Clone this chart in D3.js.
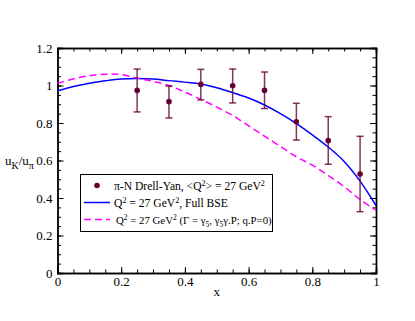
<!DOCTYPE html>
<html>
<head>
<meta charset="utf-8">
<script src="https://cdn.jsdelivr.net/npm/d3@7"></script>
<style>
  body { margin: 0; background: #fff; }
  text { font-family: "Liberation Serif", "Times New Roman", serif; }
</style>
</head>
<body>
<div id="chart"></div>
<script>
// measured points (pi-N Drell-Yan)
let dataX = [0.25, 0.35, 0.45, 0.55, 0.65, 0.75, 0.85, 0.95];
let dataY = [0.974, 0.914, 1.006, 0.999, 0.974, 0.807, 0.706, 0.528];
let errLow = [0.859, 0.827, 0.923, 0.907, 0.877, 0.709, 0.580, 0.327];
let errHigh = [1.088, 0.997, 1.086, 1.088, 1.072, 0.905, 0.834, 0.729];

// model curves
let curveX = [0, 0.05, 0.1, 0.15, 0.2, 0.25, 0.3, 0.35, 0.4, 0.45, 0.5,
              0.55, 0.6, 0.65, 0.7, 0.75, 0.8, 0.85, 0.9, 0.95, 1.0];
let fullBSE = [0.972, 0.995, 1.012, 1.025, 1.035, 1.038, 1.035, 1.026, 1.018, 1.008, 0.988,
               0.962, 0.933, 0.896, 0.850, 0.797, 0.737, 0.672, 0.595, 0.490, 0.360];
let truncBSE = [1.012, 1.035, 1.052, 1.060, 1.058, 1.040, 1.022, 1.000, 0.965, 0.926, 0.885,
                0.840, 0.785, 0.730, 0.675, 0.620, 0.575, 0.520, 0.460, 0.392, 0.335];

let xTicks = [0, 0.2, 0.4, 0.6, 0.8, 1];
let yTicks = [0, 0.2, 0.4, 0.6, 0.8, 1, 1.2];

let buildChart = () =>
{
	let width = 415;
	let height = 321;
	let left = 57.5, right = 376, top = 48, bottom = 273;

	let svg = d3.select('#chart')
	  .append('svg')
	  .attr('width', width)
	  .attr('height', height);

	let x = d3.scaleLinear().domain([0, 1]).range([left, right]);
	let y = d3.scaleLinear().domain([0, 1.2]).range([bottom, top]);

	let fmt = d => d === 0 || d === 1 ? d3.format('d')(d) : d3.format('.1f')(d);

	// minor ticks first, then majors with labels
	let minorX = d3.range(0, 1.0001, 0.05);
	let minorY = d3.range(0, 1.2001, 0.05);

	let addAxis = (axis, tx, ty) => {
		let g = svg.append('g')
		  .attr('transform', 'translate(' + tx + ',' + ty + ')')
		  .call(axis);
		g.selectAll('path.domain').attr('stroke', '#000').attr('stroke-width', 1.4);
		g.selectAll('line').attr('stroke', '#000').attr('stroke-width', 1);
		g.selectAll('text')
		  .style('font-family', '"Liberation Serif", serif')
		  .style('font-size', '13px')
		  .attr('fill', '#000');
		return g;
	};

	addAxis(d3.axisBottom(x).tickValues(minorX).tickSize(-3.5).tickFormat(''), 0, bottom);
	addAxis(d3.axisTop(x).tickValues(minorX).tickSize(-3.5).tickFormat(''), 0, top);
	addAxis(d3.axisLeft(y).tickValues(minorY).tickSize(-3.5).tickFormat(''), left, 0);
	addAxis(d3.axisRight(y).tickValues(minorY).tickSize(-3.5).tickFormat(''), right, 0);

	addAxis(d3.axisBottom(x).tickValues(xTicks).tickSize(-6).tickPadding(4).tickFormat(fmt), 0, bottom);
	addAxis(d3.axisTop(x).tickValues(xTicks).tickSize(-6).tickFormat(''), 0, top);
	addAxis(d3.axisLeft(y).tickValues(yTicks).tickSize(-6).tickPadding(5).tickFormat(fmt), left, 0);
	addAxis(d3.axisRight(y).tickValues(yTicks).tickSize(-6).tickFormat(''), right, 0);

	// curves
	let line = d3.line()
	  .x((d, i) => x(curveX[i]))
	  .y(d => y(d))
	  .curve(d3.curveCatmullRom);

	svg.append('path')
	   .datum(fullBSE)
	   .attr('d', line)
	   .attr('fill', 'none')
	   .attr('stroke', '#0000ff')
	   .attr('stroke-width', 1.5);

	svg.append('path')
	   .datum(truncBSE)
	   .attr('d', line)
	   .attr('fill', 'none')
	   .attr('stroke', '#ff00ff')
	   .attr('stroke-width', 1.5)
	   .attr('stroke-dasharray', '7,4');

	// data with error bars
	let pts = dataX.map((d, i) => ({ x: d, y: dataY[i], lo: errLow[i], hi: errHigh[i] }));
	let ptColor = '#660033';

	let bars = svg.selectAll('g.pt')
	   .data(pts)
	   .enter()
	   .append('g')
	   .attr('class', 'pt')
	   .attr('stroke', ptColor)
	   .attr('stroke-opacity', 0.8)
	   .attr('stroke-width', 1.5);

	bars.append('line')
	   .attr('x1', d => x(d.x)).attr('x2', d => x(d.x))
	   .attr('y1', d => y(d.lo)).attr('y2', d => y(d.hi));
	bars.append('line')
	   .attr('x1', d => x(d.x) - 3.5).attr('x2', d => x(d.x) + 3.5)
	   .attr('y1', d => y(d.lo)).attr('y2', d => y(d.lo));
	bars.append('line')
	   .attr('x1', d => x(d.x) - 3.5).attr('x2', d => x(d.x) + 3.5)
	   .attr('y1', d => y(d.hi)).attr('y2', d => y(d.hi));

	svg.selectAll('circle.pt')
	   .data(pts)
	   .enter()
	   .append('circle')
	   .attr('class', 'pt')
	   .attr('cx', d => x(d.x))
	   .attr('cy', d => y(d.y))
	   .attr('r', 2.8)
	   .attr('fill', ptColor);

	// axis titles
	let yl = svg.append('text')
	   .attr('x', 5)
	   .attr('y', 165)
	   .style('font-size', '13px');
	yl.append('tspan').text('u');
	yl.append('tspan').text('K').attr('dy', 4).style('font-size', '10px');
	yl.append('tspan').text('/u').attr('dy', -4);
	yl.append('tspan').text('π').attr('dy', 4).style('font-size', '10px');

	svg.append('text')
	   .attr('x', x(0.5))
	   .attr('y', 296)
	   .attr('text-anchor', 'middle')
	   .style('font-size', '13px')
	   .text('x');

	// legend
	let legend = svg.append('g');
	legend.append('rect')
	   .attr('x', 80.5).attr('y', 174.5)
	   .attr('width', 192).attr('height', 57)
	   .attr('fill', '#fff')
	   .attr('stroke', '#000')
	   .attr('stroke-width', 1);

	let rows = [185.5, 202.5, 219.5];

	legend.append('circle')
	   .attr('cx', 97).attr('cy', rows[0]).attr('r', 2.8).attr('fill', ptColor);
	legend.append('line')
	   .attr('x1', 84).attr('x2', 110).attr('y1', rows[1]).attr('y2', rows[1])
	   .attr('stroke', '#0000ff').attr('stroke-width', 1.5);
	legend.append('line')
	   .attr('x1', 84).attr('x2', 110).attr('y1', rows[2]).attr('y2', rows[2])
	   .attr('stroke', '#ff00ff').attr('stroke-width', 1.5)
	   .attr('stroke-dasharray', '7,4');

	let labels = [
		[['π-N Drell-Yan, <Q', 0], ['2', -1], ['> = 27 GeV', 1], ['2', -1]],
		[['Q', 0], ['2', -1], [' = 27 GeV', 1], ['2', -1], [', Full BSE', 1]],
		[['Q', 0], ['2', -1], [' = 27 GeV', 1], ['2', -1], [' (Γ = γ', 1], ['5', 2], [', γ', -2], ['5', 2], ['γ.P; q.P=0)', -2]]
	];
	let rowSize = [11.6, 11.6, 10.8];

	labels.forEach((parts, r) => {
		let fs = rowSize[r];
		let t = legend.append('text')
		   .attr('x', r === 2 ? 116 : 114)
		   .attr('y', rows[r] + 4)
		   .style('font-size', fs + 'px');
		parts.forEach(p => {
			let small = (p[1] === -1 || p[1] === 2);
			let dy = p[1] === -1 ? -4 : p[1] === 1 ? 4 : p[1] === 2 ? 3 : p[1] === -2 ? -3 : 0;
			t.append('tspan')
			 .text(p[0])
			 .attr('dy', dy)
			 .style('font-size', small ? (fs * 0.7) + 'px' : fs + 'px');
		});
	});
};

buildChart();
</script>
</body>
</html>
